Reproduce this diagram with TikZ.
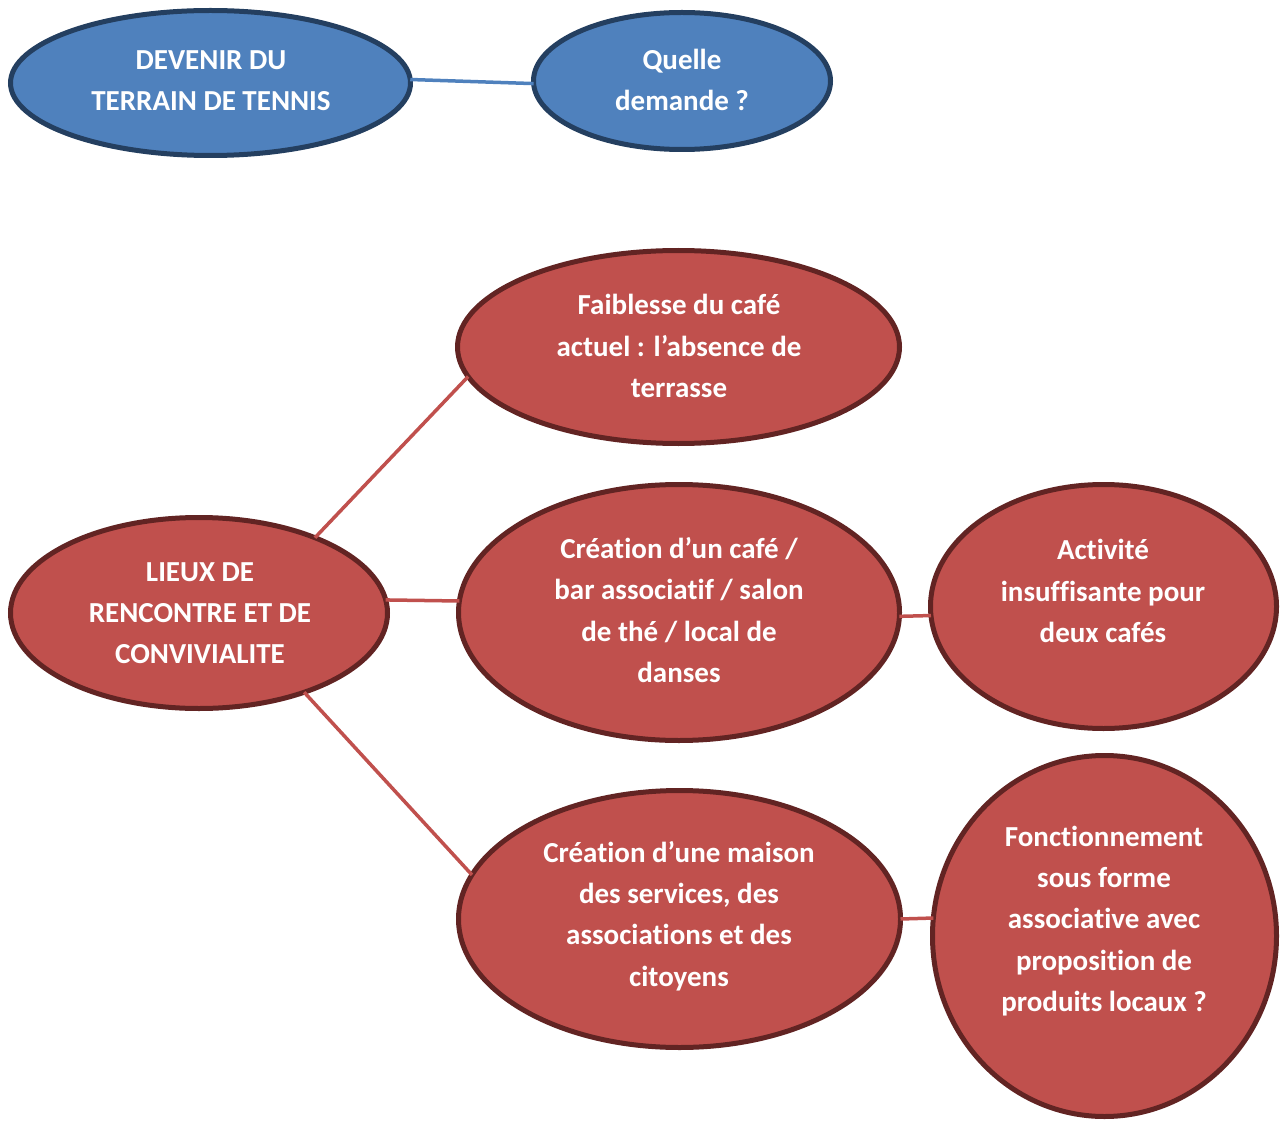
\documentclass[tikz,border=0pt]{standalone}
\usepackage{fontspec}
\setmainfont{Carlito}[Ligatures=NoCommon]
\usetikzlibrary{shapes.geometric}
\definecolor{bfill}{HTML}{4F81BD}
\definecolor{bdraw}{HTML}{243F60}
\definecolor{rfill}{HTML}{C0504D}
\definecolor{rdraw}{HTML}{622423}
\tikzset{
  ell/.style={ellipse, inner sep=0pt, outer sep=0pt, line width=5pt},
  blueell/.style={ell, fill=bfill, draw=bdraw},
  redell/.style={ell, fill=rfill, draw=rdraw},
  txt/.style={text=white, align=center, inner sep=0pt, font=\bfseries\fontsize{29}{41.3}\selectfont},
  blink/.style={draw=bfill, line width=3.5pt},
  rlink/.style={draw=rfill, line width=3.5pt},
}
\begin{document}
\begin{tikzpicture}[x=1pt,y=-1pt]
\useasboundingbox (0,0) rectangle (1284,1139);
\node[blueell, minimum width=400pt, minimum height=145pt] (devenir) at (210.5,83) {};
\node[blueell, minimum width=297pt, minimum height=137pt] (quelle) at (682,81) {};
\node[redell, minimum width=442pt, minimum height=193pt] (faib) at (678.5,347) {};
\node[redell, minimum width=377pt, minimum height=191pt] (lieux) at (199,613) {};
\node[redell, minimum width=441pt, minimum height=256pt] (cafe) at (679,612.5) {};
\node[redell, minimum width=346pt, minimum height=244pt] (act) at (1103.5,606.5) {};
\node[redell, minimum width=442pt, minimum height=257pt] (maison) at (679.5,919) {};
\node[redell, minimum width=344pt, minimum height=361pt] (fonc) at (1104.5,936) {};

\draw[blink] (devenir.1.5) -- (quelle.181);
\draw[rlink] (lieux.33) -- (faib.188);
\draw[rlink] (lieux.4) -- (cafe.177);
\draw[rlink] (lieux.-37) -- (maison.168);
\draw[rlink] (cafe.-1) -- (act.183);
\draw[rlink] (maison.0) -- (fonc.174);

\node[txt] (t1) at (211,81) {DEVENIR DU\\TERRAIN DE TENNIS};
\node[txt] (t2) at (682,80) {Quelle\\demande ?};
\node[txt] (t3) at (679,346) {Faiblesse du café\\actuel : l’absence de\\terrasse};
\node[txt] (t4) at (200,613) {LIEUX DE\\RENCONTRE ET DE\\CONVIVIALITE};
\node[txt] (t5) at (679,610) {Création d’un café /\\bar associatif / salon\\de thé / local de\\danses};
\node[txt] (t6) at (1103,591) {Activité\\insuffisante pour\\deux cafés};
\node[txt] (t7) at (679,916) {Création d’une maison\\des services, des\\associations et des\\citoyens};
\node[txt] (t8) at (1104,921) {Fonctionnement\\sous forme\\associative avec\\proposition de\\produits locaux ?};
\end{tikzpicture}
\end{document}
